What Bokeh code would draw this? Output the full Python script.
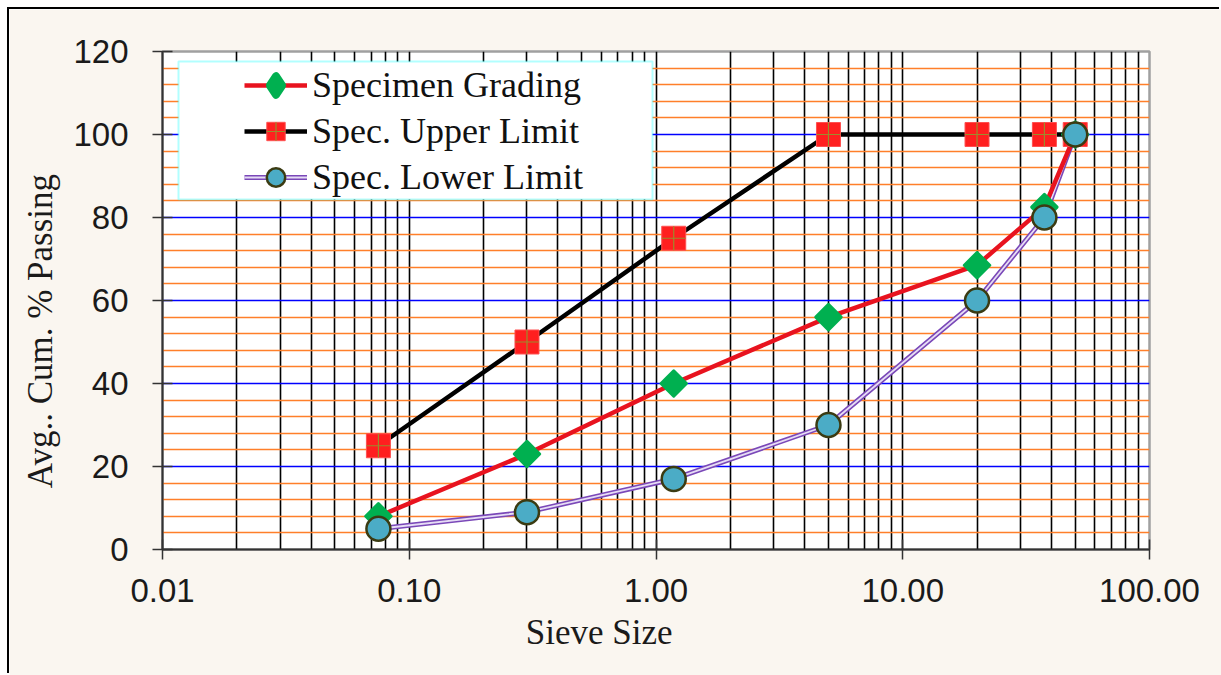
import numpy as np
from bokeh.plotting import figure
from bokeh.models import (Range1d, FixedTicker, PrintfTickFormatter, Legend,
                          LegendItem, BoxAnnotation, ColumnDataSource)
from bokeh.embed import file_html
from bokeh.resources import INLINE

# ---- data ----
sieve_size = [0.075, 0.3, 1.18, 5.0, 20.0, 37.5, 50.0]
specimen_grading = [8, 23, 40, 56, 68.5, 82.5, 100]
upper_limit = [25, 50, 75, 100, 100, 100, 100]
lower_limit = [5, 9, 17, 30, 60, 80, 100]

x_ticks = [0.01, 0.1, 1, 10, 100]
x_minor = [m * d for d in [0.01, 0.1, 1, 10] for m in range(2, 10)]
y_ticks = list(range(0, 121, 20))
y_minor = [v for v in range(0, 121, 4) if v % 20]

series_labels = ["Specimen Grading", "Spec. Upper Limit", "Spec. Lower Limit"]
x_title = "Sieve Size"
y_title = "Avg.. Cum. % Passing"

src = ColumnDataSource(dict(x=sieve_size, spec=specimen_grading,
                            up=upper_limit, low=lower_limit))
# legend key source: a single undrawn (NaN) point, used only for the legend swatch
key_src = ColumnDataSource(dict(x=[sieve_size[0]], y=[float("nan")]))

p = figure(width=1212, height=666, x_axis_type="log",
           x_range=Range1d(0.01, 100), y_range=Range1d(0, 120),
           output_backend="svg", toolbar_location=None,
           min_border_left=153, min_border_right=72,
           min_border_top=42, min_border_bottom=126,
           background_fill_color="white", border_fill_color="#faf6f0")
p.styles = {"margin-left": "9px", "margin-top": "9px",
            "box-shadow": "-2px -2px 0 0 #000"}
p.outline_line_color = "#a0a0a0"
p.outline_line_width = 2.5

# axes
p.xaxis.ticker = FixedTicker(ticks=x_ticks, minor_ticks=x_minor)
p.xaxis.formatter = PrintfTickFormatter(format="%.2f")
p.yaxis.ticker = FixedTicker(ticks=y_ticks, minor_ticks=y_minor)
for ax in (p.xaxis[0], p.yaxis[0]):
    ax.major_label_text_font = "Liberation Sans"
    ax.major_label_text_font_size = "33px"
    ax.major_label_text_color = "#1a1a1a"
    ax.axis_label_text_font = "Liberation Serif"
    ax.axis_label_text_font_size = "35px"
    ax.axis_label_text_font_style = "normal"
    ax.axis_label_text_color = "#1a1a1a"
    ax.major_tick_in = 10
    ax.major_tick_out = 10
    ax.major_tick_line_color = "#333333"
    ax.major_tick_line_width = 1.5
    ax.minor_tick_line_color = None
    ax.axis_line_color = "#333333"
    ax.axis_line_width = 2
# trailing no-break spaces shift the titles off-centre like the original
p.xaxis.axis_label = x_title + "\u00a0" * 13
p.yaxis.axis_label = y_title + "\u00a0" * 7
p.xaxis.major_label_standoff = 19
p.xaxis.axis_label_standoff = 8
p.yaxis.major_label_standoff = 24
p.yaxis.axis_label_standoff = 10

# grids
p.xgrid.grid_line_color = "#000000"
p.xgrid.grid_line_width = 1.6
p.xgrid.minor_grid_line_color = "#000000"
p.xgrid.minor_grid_line_width = 1.6
p.ygrid.grid_line_color = "#0000ff"
p.ygrid.grid_line_width = 1.3
p.ygrid.minor_grid_line_color = "#ff7f2a"
p.ygrid.minor_grid_line_width = 1.6

# lines
low_outer = p.line("x", "low", source=src, line_color="#7a48b8", line_width=5)
low_inner = p.line("x", "low", source=src, line_color="#e6dcf5", line_width=1.8)
spec_line = p.line("x", "spec", source=src, line_color="#e8131f", line_width=4.5)
up_line = p.line("x", "up", source=src, line_color="#000000", line_width=4.5)

# markers
up_sq = p.scatter("x", "up", source=src, marker="square", size=24,
                  fill_color="#ff1f1f", line_color="#ff5050", line_width=1)
up_cross = p.scatter("x", "up", source=src, marker="cross", size=24,
                     line_color="#9c8c2c", line_width=1.2)
spec_pts = p.scatter("x", "spec", source=src, marker="square", angle=np.pi / 4,
                     size=18, fill_color="#00b050", line_color="#00b050",
                     line_width=3, line_join="round")
low_pts = p.scatter("x", "low", source=src, marker="circle", size=24,
                    fill_color="#4bacc6", line_color="#3b3b12", line_width=2.5)

# legend-only diamond swatch
spec_key = p.scatter("x", "y", source=key_src, marker="diamond", size=18,
                     fill_color="#00b050", line_color="#00b050",
                     line_width=8, line_join="round")

# legend box
box = BoxAnnotation(left=16, right=490, top=488, bottom=350,
                    left_units="screen", right_units="screen",
                    top_units="screen", bottom_units="screen",
                    fill_color="white", fill_alpha=1,
                    line_color="#00ffff", line_width=2)
p.add_layout(box)

legend = Legend(items=[
    LegendItem(label=series_labels[0], renderers=[spec_line, spec_key]),
    LegendItem(label=series_labels[1], renderers=[up_line, up_sq, up_cross]),
    LegendItem(label=series_labels[2], renderers=[low_outer, low_inner, low_pts]),
], location=(82, 349), glyph_width=63, glyph_height=46, label_height=40,
    spacing=0, padding=0, margin=0, label_standoff=5,
    border_line_color=None, background_fill_alpha=0,
    label_text_font="Liberation Serif", label_text_font_size="36px",
    label_text_color="#111111")
p.add_layout(legend)

open("out.html", "w").write(file_html(p, INLINE))
